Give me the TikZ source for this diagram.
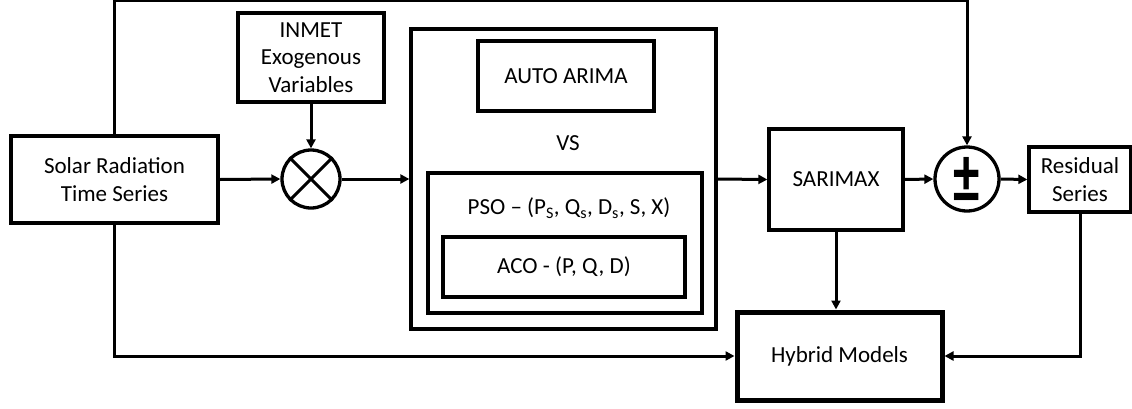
\documentclass[tikz,border=0pt]{standalone}
\usepackage{fontspec}
\setmainfont{Carlito}
\usetikzlibrary{arrows.meta,calc}
\begin{document}
\begin{tikzpicture}[x=1pt,y=-1pt,
  every node/.style={font=\fontsize{23}{27.7}\selectfont, align=center, inner sep=0pt},
  block/.style={draw, line width=3.3pt, minimum width=#1},
  sumnode/.style={draw, circle, line width=3.3pt, minimum size=#1},
  link/.style={line width=3pt, -{Triangle[length=9pt,width=9pt]}}]
\useasboundingbox (0,0) rectangle (1132,408);

% input blocks
\node[block=207pt, minimum height=87pt] (solar) at (114.5,179.5) {Solar Radiation\\Time Series};
\node[block=146pt, minimum height=89pt] (inmet) at (311,57.5) {INMET\\Exogenous\\Variables};
\node[sumnode=58pt] (mult) at (311,179) {};
\draw[line width=3pt] (mult.45) -- (mult.225) (mult.135) -- (mult.315);

% model selection group
\node[block=305pt, minimum height=300pt] (sel) at (563.5,179) {};
\node[block=176pt, minimum height=70pt] (auto) at (566,76) {AUTO ARIMA};
\node (vs) at (568,143) {VS};
\node[block=274pt, minimum height=140pt] (pso) at (565,243) {};
\node (psotxt) at (569,208) {PSO -- (P\textsubscript{S}, Q\textsubscript{s}, D\textsubscript{s}, S, X)};
\node[block=242pt, minimum height=60pt] (aco) at (564,267) {ACO - (P, Q, D)};

% model and residual stage
\node[block=134pt, minimum height=101pt] (sarimax) at (836,179.5) {SARIMAX};
\node[sumnode=64pt] (pm) at (967,179) {};
\node[font=\fontsize{46}{46}\selectfont\bfseries] (pmsym) at (967,180) {\scalebox{1.15}[1.7]{±}};
\node[block=102pt, minimum height=65pt] (resid) at (1080,179.5) {Residual\\Series};
\node[block=205pt, minimum height=88pt, line width=5pt] (hybrid) at (839.5,356) {Hybrid Models};

\coordinate (top) at (500,0.8);

% connectors
\draw[link] (solar.east) -- (mult.west);
\draw[link] (inmet.south) -- (mult.north);
\draw[link] (mult.east) -- (sel.west);
\draw[link] (sel.east) -- (sarimax.west);
\draw[link] (sarimax.east) -- (pm.west);
\draw[link] (pm.east) -- (resid.west);
\draw[link] (sarimax.south) -- (sarimax.south |- hybrid.north);
\draw[link] (solar.north) |- (top) -| (pm.north);
\draw[link] (solar.south) |- (hybrid.west);
\draw[link] (resid.south) |- (hybrid.east);
\end{tikzpicture}
\end{document}
